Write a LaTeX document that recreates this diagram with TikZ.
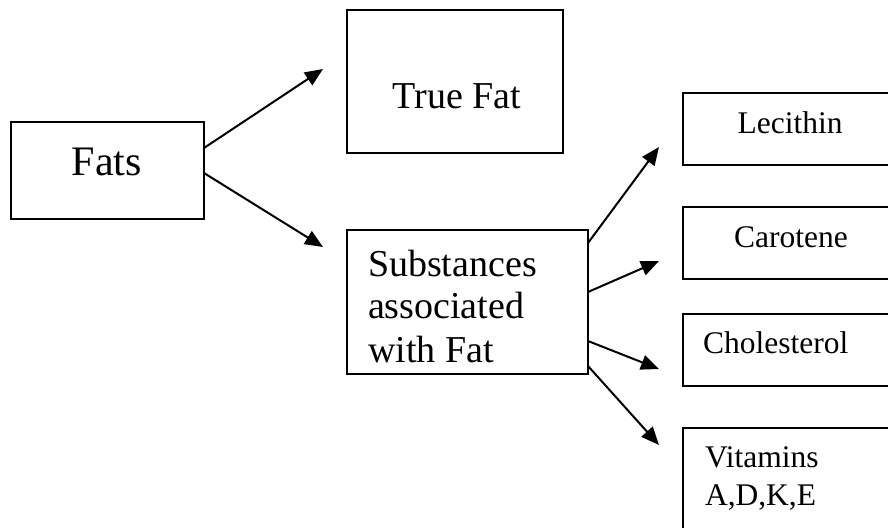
\documentclass[tikz,border=0pt]{standalone}
\usepackage{fontspec}
\setmainfont{Liberation Serif}
\usetikzlibrary{arrows.meta}

\tikzset{
  box/.style={draw=black, line width=1.8pt, rectangle, inner sep=0pt, outer sep=0pt},
  label/.style={inner sep=0pt, outer sep=0pt, anchor=base},
  lbl/.style={inner sep=0pt, outer sep=0pt, anchor=base west},
  big/.style={font=\fontsize{42}{48}\selectfont},
  mid/.style={font=\fontsize{38}{44}\selectfont},
  small/.style={font=\fontsize{31.5}{36}\selectfont},
  arr/.style={line width=2pt, -{Triangle[length=18pt,width=15pt]}}
}

\begin{document}
\begin{tikzpicture}[x=1pt,y=-1pt]
  \clip (0,0) rectangle (888,527);
  \fill[white] (0,0) rectangle (888,527);

  % boxes
  \node[box, minimum width=193, minimum height=97]  (fats)  at (107.5,170.5) {};
  \node[box, minimum width=216, minimum height=143] (true)  at (455,81.5) {};
  \node[box, minimum width=241, minimum height=144] (subst) at (467.5,302) {};
  \node[box, minimum width=214, minimum height=72]  (lec)   at (790,129) {};
  \node[box, minimum width=214, minimum height=72]  (car)   at (790,243) {};
  \node[box, minimum width=214, minimum height=72]  (chol)  at (790,350) {};
  \node[box, minimum width=214, minimum height=112] (vit)   at (790,484) {};

  % texts
  \node[label, big] (tfats) at (107,175) {Fats};
  \node[label, mid] (ttrue) at (457,108) {True Fat};
  \node[lbl, mid] (ts1) at (368,276) {Substances};
  \node[lbl, mid] (ts2) at (368,318) {associated};
  \node[lbl, mid] (ts3) at (368,362) {with Fat};
  \node[label, small] (tlec) at (790,133) {Lecithin};
  \node[label, small] (tcar) at (791,247) {Carotene};
  \node[lbl, small] (tchol) at (703,353) {Cholesterol};
  \node[lbl, small] (tvit1) at (705,467) {Vitamins};
  \node[lbl, small] (tvit2) at (705,505) {A,D,K,E};

  % arrow tips
  \coordinate (pTrue) at (323,69);
  \coordinate (pSub)  at (323,247);
  \coordinate (pLec)  at (659,147);
  \coordinate (pCar)  at (659,261);
  \coordinate (pChol) at (659,369);
  \coordinate (pVit)  at (659,445);

  % connectors
  \draw[arr] ([yshift=22.5pt]fats.east) -- (pTrue);
  \draw[arr] ([yshift=-2.5pt]fats.east) -- (pSub);
  \draw[arr] ([yshift=59pt]subst.east) -- (pLec);
  \draw[arr] ([yshift=10pt]subst.east) -- (pCar);
  \draw[arr] ([yshift=-39pt]subst.east) -- (pChol);
  \draw[arr] ([yshift=-64pt]subst.east) -- (pVit);
\end{tikzpicture}
\end{document}
